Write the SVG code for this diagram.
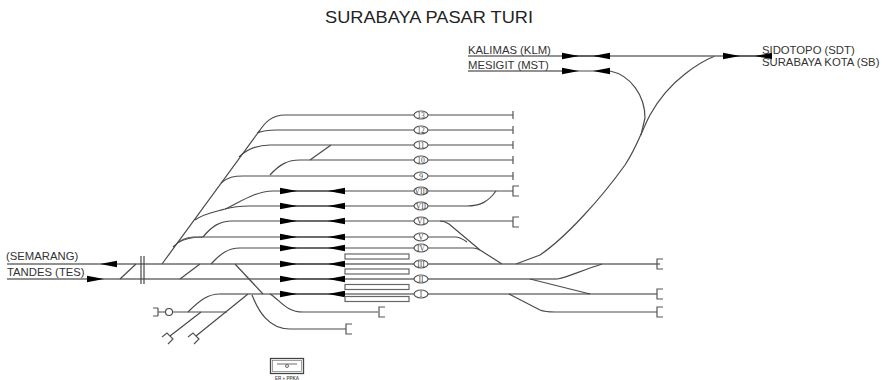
<svg xmlns="http://www.w3.org/2000/svg" width="883" height="380" viewBox="0 0 883 380">
<defs>
<style>
.t{fill:none;stroke:#4a4a4a;stroke-width:1.2}
.b{fill:none;stroke:#555;stroke-width:1.2}
.th{fill:none;stroke:#6e6e6e;stroke-width:1.5}
.d{fill:none;stroke:#333;stroke-width:1.2}
.a{fill:#000;stroke:none}
.l{font-family:"Liberation Sans",Arial,sans-serif;font-size:11.3px;fill:#333}
.e{fill:#fff;stroke:#555;stroke-width:1.2}
.n{font-family:"Liberation Serif","Times New Roman",serif;font-size:7.5px;fill:#444;text-anchor:middle}
.p{fill:#fff;stroke:#666;stroke-width:1.2}
</style>
<path id="ar" class="a" d="M0 -3.300L17 0L0 3.300Z"/>
<path id="al" class="a" d="M17 -3.300L0 0L17 3.300Z"/>
<path id="br" class="b" d="M6 -5H0V5H6"/>
</defs>
<rect width="883" height="380" fill="#fff"/>
<text id="title" x="325" y="23" font-family="'Liberation Sans',Arial,sans-serif" font-size="16.5" fill="#222" textLength="208" lengthAdjust="spacingAndGlyphs">SURABAYA PASAR TURI</text>

<g id="connectors">
<path class="th" d="M7 264H660M7 279H557"/>
<path class="t" d="M120 279L136 264M180 279L200 264M162 264L260 130"/>
<path class="t" d="M141 256V284M144 256V284"/>
<path class="t" d="M258 133C265 122 272 115 285 115H513"/>
<path class="t" d="M257 133C262 131 268 130 277 130H513"/>
<path class="t" d="M239 157C246 150 256 145 270 145H513"/>
<path class="t" d="M270 175C280 164 288 160 300 160H513"/>
<path class="t" d="M310 160L331 145"/>
<path class="t" d="M221 183C228 177 234 176 243 176H513"/>
<path class="t" d="M195 220C205 213 215 212 225 209C240 202 256 191 273 191H513"/>
<path class="t" d="M225 209C232 207 240 206 250 206H467C480 206 488 202 496 191"/>
<path class="t" d="M203 237C212 226 220 221 232 221H513"/>
<path class="t" d="M173 247C180 240 186 237 193 237H455C459 237 463 239 467 242"/>
<path class="t" d="M177 243C184 239 192 237 203 237"/>
<path class="t" d="M211 264C220 254 228 248 240 248H473C476 248 478 249 480 250"/>
<path class="t" d="M440 221C444 221 446 222 449 224L480 250L502 264"/>
<path class="t" d="M516 264L540 255C565 238 600 200 625 165C637 147 642 130 650 115C660 97 672 84 685 74C695 66 705 60 715 56"/>
<path class="t" d="M557 279C566 278 580 271 602 264"/>
<path class="t" d="M530 279L590 294"/>
<path class="t" d="M509 294L540 310C545 312 550 312 555 312H657"/>
<path class="d" d="M220 294H657"/>
<path class="t" d="M188 312C200 300 208 294 220 294"/>
<path class="t" d="M158 312H165M173 312H227"/>
<path class="t" d="M201 312L170 336M248 294L196 336"/>
<path class="t" d="M235 264L263 294"/>
<path class="t" d="M252 295C258 310 268 329 290 329H346"/>
<path class="t" d="M270 294C280 300 286 312 303 312H378"/>
<path class="th" d="M468 56H772"/>
<path class="th" d="M468 71H562"/>
<path class="t" d="M562 71H610C630 75 645 95 645 118L641 135"/>
<path class="d" d="M280 191H345M280 206H345M280 221H345M280 237H345M280 248H345M280 264H345M280 279H345M280 294H345M562 56H610M723 56H772"/>
<path class="b" d="M513 111V119M513 126V134M513 141V149M513 156V164M513 172V180"/>
<use href="#br" x="513" y="191"/>
<use href="#br" x="513" y="222"/>
<use href="#br" x="657" y="264"/>
<use href="#br" x="657" y="294"/>
<use href="#br" x="657" y="312"/>
<use href="#br" x="346" y="329"/>
<use href="#br" x="379" y="312"/>
<path class="b" d="M158 308H153M158 316H153M158 308V316"/>
<path class="b" d="M162 337L167 333L173 339L168 344"/>
<path class="b" d="M188 337L193 333L199 339L194 344"/>
<use href="#al" x="100" y="264"/>
<use href="#ar" x="87" y="279"/>
<use href="#ar" x="280" y="191"/><use href="#al" x="328" y="191"/>
<use href="#ar" x="280" y="206"/><use href="#al" x="328" y="206"/>
<use href="#ar" x="280" y="221"/><use href="#al" x="328" y="221"/>
<use href="#ar" x="280" y="237"/><use href="#al" x="328" y="237"/>
<use href="#ar" x="280" y="248"/><use href="#al" x="328" y="248"/>
<use href="#ar" x="280" y="264"/><use href="#al" x="328" y="264"/>
<use href="#ar" x="280" y="279"/><use href="#al" x="328" y="279"/>
<use href="#ar" x="280" y="294"/><use href="#al" x="328" y="294"/>
<use href="#ar" x="562" y="56"/><use href="#al" x="593" y="56"/>
<use href="#ar" x="562" y="71"/><use href="#al" x="593" y="71"/>
<use href="#ar" x="723" y="56"/><use href="#al" x="755" y="56"/>
</g>

<g id="platforms">
<rect class="p" x="345" y="254" width="64" height="5"/>
<rect class="p" x="345" y="269" width="64" height="5"/>
<rect class="p" x="345" y="284.500" width="64" height="5"/>
<rect class="p" x="345" y="296.500" width="64" height="5"/>
</g>

<g id="signal-left"><circle cx="169" cy="312" r="3.500" fill="#fff" stroke="#444" stroke-width="1.100"/></g>

<g id="track-13"><ellipse class="e" cx="421" cy="115" rx="7" ry="4"/><text class="n" x="421" y="117.500">13</text></g>
<g id="track-12"><ellipse class="e" cx="421" cy="130" rx="7" ry="4"/><text class="n" x="421" y="132.500">12</text></g>
<g id="track-11"><ellipse class="e" cx="421" cy="145" rx="7" ry="4"/><text class="n" x="421" y="147.500">11</text></g>
<g id="track-10"><ellipse class="e" cx="421" cy="160" rx="7" ry="4"/><text class="n" x="421" y="162.500">10</text></g>
<g id="track-9"><ellipse class="e" cx="421" cy="176" rx="7" ry="4"/><text class="n" x="421" y="178.500">9</text></g>
<g id="track-VIII"><ellipse class="e" cx="421" cy="191" rx="7" ry="4"/><text class="n" x="421" y="193.500">VIII</text></g>
<g id="track-VII"><ellipse class="e" cx="421" cy="206" rx="7" ry="4"/><text class="n" x="421" y="208.500">VII</text></g>
<g id="track-VI"><ellipse class="e" cx="421" cy="221" rx="7" ry="4"/><text class="n" x="421" y="223.500">VI</text></g>
<g id="track-V"><ellipse class="e" cx="421" cy="237" rx="7" ry="4"/><text class="n" x="421" y="239.500">V</text></g>
<g id="track-IV"><ellipse class="e" cx="421" cy="248" rx="7" ry="4"/><text class="n" x="421" y="250.500">IV</text></g>
<g id="track-III"><ellipse class="e" cx="421" cy="264" rx="7" ry="4"/><text class="n" x="421" y="266.500">III</text></g>
<g id="track-II"><ellipse class="e" cx="421" cy="279" rx="7" ry="4"/><text class="n" x="421" y="281.500">II</text></g>
<g id="track-I"><ellipse class="e" cx="421" cy="294" rx="7" ry="4"/><text class="n" x="421" y="296.500">I</text></g>

<g id="labels">
<text class="l" x="6" y="260">(SEMARANG)</text>
<text class="l" x="7" y="276">TANDES (TES)</text>
<text class="l" x="468" y="54">KALIMAS (KLM)</text>
<text class="l" x="468" y="69">MESIGIT (MST)</text>
<text class="l" x="762" y="53.500">SIDOTOPO (SDT)</text>
<text class="l" x="762" y="66">SURABAYA KOTA (SB)</text>
</g>

<g id="ppka">
<rect x="270.500" y="358.500" width="33" height="15" fill="#fff" stroke="#444" stroke-width="1.300"/>
<rect x="272.500" y="360.500" width="29" height="11" fill="none" stroke="#777" stroke-width="0.700"/>
<path d="M277 364H297" stroke="#444" stroke-width="0.800" fill="none"/>
<circle cx="287" cy="366" r="1.500" fill="#fff" stroke="#444" stroke-width="0.800"/>
<text x="287" y="380" font-family="'Liberation Sans',Arial,sans-serif" font-size="4.500" font-weight="bold" fill="#555" text-anchor="middle">ER + PPKA</text>
</g>
</svg>
